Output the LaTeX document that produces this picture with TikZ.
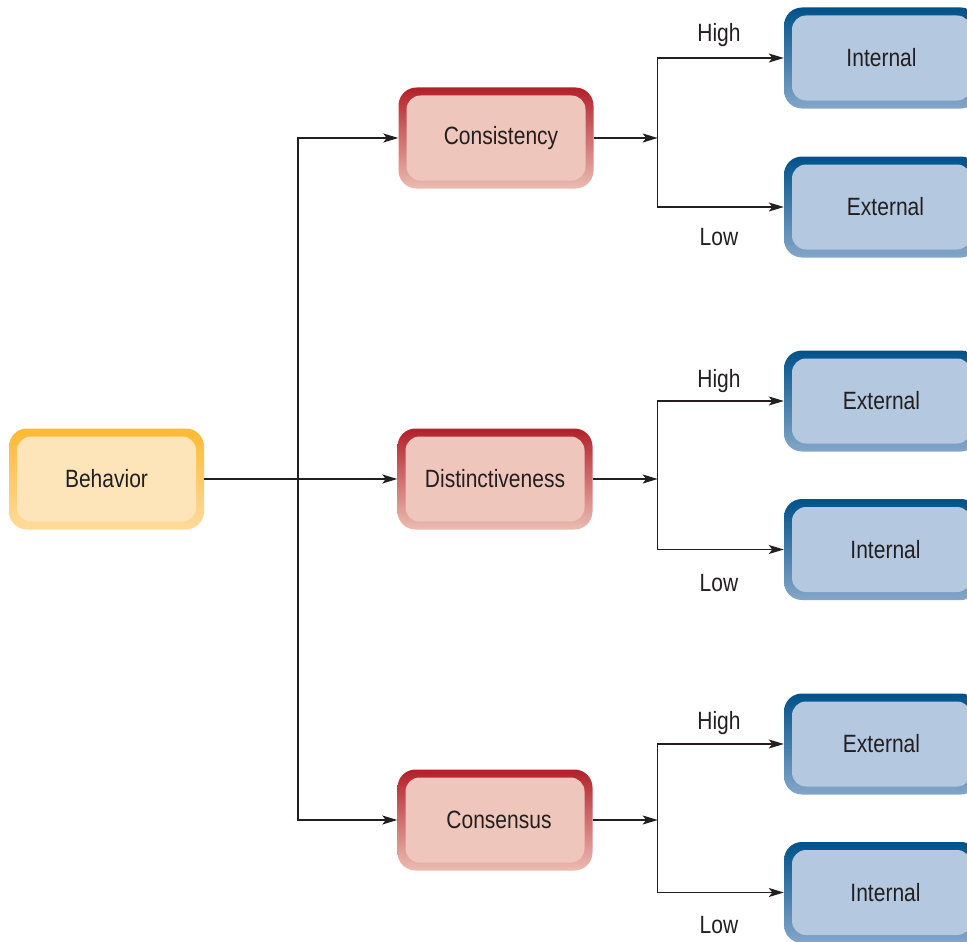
\documentclass[tikz,border=0pt]{standalone}
\usepackage{fontspec}
\setmainfont[FakeStretch=0.84]{Liberation Sans}
\usetikzlibrary{arrows.meta}
\definecolor{ytop}{HTML}{FDB933}
\definecolor{ybot}{HTML}{FEDB9E}
\definecolor{yin}{HTML}{FDE5B9}
\definecolor{rtop}{HTML}{B3202A}
\definecolor{rbot}{HTML}{EBBCB1}
\definecolor{rin}{HTML}{EEC6BB}
\definecolor{btop}{HTML}{00528A}
\definecolor{bbot}{HTML}{84A6C8}
\definecolor{bin}{HTML}{B4C8DF}
\definecolor{ink}{HTML}{231F20}
\tikzset{
  box/.style={minimum width=195pt, minimum height=101pt, rounded corners=18pt,
    text=ink, font=\fontsize{25}{29}\selectfont, inner sep=0pt,
    path picture={\fill[#1, rounded corners=14pt]
      ([shift={(8pt,8pt)}]path picture bounding box.south west) rectangle
      ([shift={(-8pt,-8pt)}]path picture bounding box.north east);}},
  ybox/.style={box=yin, top color=ytop, bottom color=ybot},
  rbox/.style={box=rin, top color=rtop, bottom color=rbot},
  bbox/.style={box=bin, top color=btop, bottom color=bbot},
  arr/.style={draw=ink, line width=1.3pt, -{Stealth[length=15pt,width=9pt,inset=3.5pt]}},
  lab/.style={text=ink, font=\fontsize{25}{29}\selectfont, inner sep=0pt}
}
\begin{document}
\begin{tikzpicture}[x=1pt,y=-1pt]
\useasboundingbox (0,0) rectangle (967,942);
% first column
\node[ybox] (beh) at (106.5,479) {Behavior};
% criteria
\node[rbox] (cons) at (496,138) {\hspace*{10pt}Consistency\raisebox{-2pt}{}};
\node[rbox] (dist) at (495,479) {Distinctiveness};
\node[rbox] (cens) at (495,820) {\hspace*{8pt}Consensus};
% attributions
\node[bbox] (a1) at (881.5,58) {Internal};
\node[bbox] (a2) at (881.5,207) {\hspace*{8pt}External};
\node[bbox] (a3) at (881.5,401) {External};
\node[bbox] (a4) at (881.5,549.5) {\hspace*{8pt}Internal};
\node[bbox] (a5) at (881.5,744) {External};
\node[bbox] (a6) at (881.5,892.5) {\hspace*{8pt}Internal};
% behavior to criteria
\coordinate (j0) at (298,479);
\draw[arr] (beh.east) -- (dist.west);
\draw[arr] (j0) |- (cons.west);
\draw[arr] (j0) |- (cens.west);
% criteria to attributions
\draw[arr] (cons.east) -- ++(64,0) coordinate (j1);
\draw[arr] (j1) |- (a1.west);
\draw[arr] (j1) |- (a2.west);
\draw[arr] (dist.east) -- ++(65,0) coordinate (j2);
\draw[arr] (j2) |- (a3.west);
\draw[arr] (j2) |- (a4.west);
\draw[arr] (cens.east) -- ++(65,0) coordinate (j3);
\draw[arr] (j3) |- (a5.west);
\draw[arr] (j3) |- (a6.west);
% branch labels
\node[lab] (h1) at (719,35) {High};
\node[lab] (l1) at (719,237) {Low};
\node[lab] (h2) at (719,381) {High};
\node[lab] (l2) at (719,583) {Low};
\node[lab] (h3) at (719,723) {High};
\node[lab] (l3) at (719,925) {Low};
\end{tikzpicture}
\end{document}
